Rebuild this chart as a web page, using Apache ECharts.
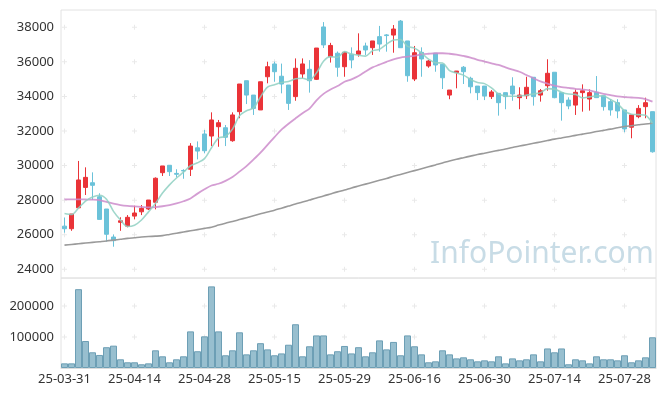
<!DOCTYPE html>
<html><head><meta charset="utf-8">
<script src="https://cdn.jsdelivr.net/npm/echarts@6/dist/echarts.min.js"></script>
<style>html,body{margin:0;padding:0;background:#fff}#c{width:665px;height:396px}</style>
</head><body><div id="c"></div>
<script>
const dates = ['25-03-31','25-04-01','25-04-02','25-04-03','25-04-04','25-04-07','25-04-08','25-04-09','25-04-10','25-04-11',
'25-04-14','25-04-15','25-04-16','25-04-17','25-04-18','25-04-21','25-04-22','25-04-23','25-04-24','25-04-25',
'25-04-28','25-04-29','25-04-30','25-05-02','25-05-07','25-05-08','25-05-09','25-05-12','25-05-13','25-05-14',
'25-05-15','25-05-16','25-05-19','25-05-20','25-05-21','25-05-22','25-05-23','25-05-26','25-05-27','25-05-28',
'25-05-29','25-05-30','25-06-02','25-06-04','25-06-05','25-06-09','25-06-10','25-06-11','25-06-12','25-06-13',
'25-06-16','25-06-17','25-06-18','25-06-19','25-06-20','25-06-23','25-06-24','25-06-25','25-06-26','25-06-27',
'25-06-30','25-07-01','25-07-02','25-07-03','25-07-04','25-07-07','25-07-08','25-07-09','25-07-10','25-07-11',
'25-07-14','25-07-15','25-07-16','25-07-17','25-07-18','25-07-21','25-07-22','25-07-23','25-07-24','25-07-25',
'25-07-28','25-07-29','25-07-30','25-07-31','25-08-01'];

const openP = [26500,26350,27560,28740,29010,28200,27490,25870,26720,26500,
27080,27330,27490,27880,29590,30020,29550,29720,29790,31030,
31830,31710,32250,32190,31440,33120,34910,34080,33220,35140,
35880,35170,34660,33990,35300,35570,34990,38020,36300,36500,
35720,36440,36440,36920,36820,37460,37560,37550,38360,37210,
35010,36550,35760,36500,35860,34080,35380,35690,35050,34600,
34600,33990,34180,34220,34600,33930,34040,35110,34080,34620,
35400,34220,33790,33500,34220,33850,34240,34040,33700,33640,
33220,32220,32830,33410,33120];
const closeP = [26350,27200,29170,29320,28860,26890,26030,25660,26810,27010,
27260,27530,28010,29270,29980,29650,29500,29690,31130,30840,
30860,32640,32480,31640,32930,34720,34080,33310,34850,35720,
35430,34720,33600,35630,35880,34910,36800,36980,36950,35690,
36550,36110,36630,36690,37210,37030,37520,37900,36820,35200,
36530,36170,36050,35820,35080,34370,35470,35430,34560,34220,
34030,34260,33640,33990,34140,34080,34530,33990,34330,35340,
33930,33640,33450,34240,34330,34220,33930,33410,33220,33160,
32120,32930,33310,33640,30800];
const lowP = [26120,26230,27560,28300,28010,26890,25600,25310,26230,26430,
26890,27140,27430,27470,29400,29400,29320,29240,29400,30360,
30710,31130,31090,31130,31380,32740,33560,32930,33220,34760,
34850,34180,33220,33750,35050,34220,34950,36800,35960,35140,
35140,35630,36300,36400,36400,36590,36590,36530,36820,34850,
34890,35140,35660,35430,34430,33840,34470,34720,34180,33790,
33790,33850,32890,33260,33750,33260,33850,33470,33700,34330,
33930,32600,33260,32930,33120,33180,33930,33180,32890,32740,
31930,31580,32740,32740,30750];
const highP = [27000,27200,30270,29900,29610,28400,27490,26020,27010,27140,
27680,27720,28010,29320,29980,30020,29790,29790,31300,31400,
32060,33080,32640,32350,33080,34720,34910,34080,34850,36010,
36010,35900,34660,36200,36200,36100,36800,38300,37100,36600,
36590,36840,37650,37110,37210,38080,37610,38130,38420,37210,
36920,36840,36110,36500,35860,34370,35470,35760,35140,34600,
34600,34370,34180,34220,35110,34530,35140,35110,34430,36150,
35400,34220,33950,34410,34700,34410,35180,34040,33840,33840,
33220,32930,33500,33930,33120];
const volume = [15000,15000,254000,87000,50600,42000,67000,72000,28000,18400,
18400,12000,15000,57000,37700,18400,28000,37700,118000,54000,
102000,263000,118000,41000,57000,115000,44000,57000,80000,60000,
41000,47000,75000,141000,37700,70000,105000,105000,44000,54000,
71000,47000,67000,37700,50600,89000,60000,84000,41000,105000,
70000,44000,18400,21500,57000,44000,31000,34400,28000,21500,
24700,21500,37700,15000,31000,24700,28000,44000,21500,63000,
50600,63000,12000,28000,24700,15000,37700,28000,28000,24700,
41000,18400,24700,34400,99000];
const ma5 = [27230,27170,27550,27950,28180,28288,28054,27352,26850,26480,
26554,26854,27324,27816,28410,28888,29282,29618,29990,30162,
30404,31032,31590,31692,32110,32882,33170,33336,33978,34536,
34678,34806,34864,35020,35052,34948,35364,36040,36304,36266,
36594,36456,36386,36334,36638,36734,37016,37270,37296,36894,
36794,36524,36154,35954,35930,35498,35358,35234,34982,34810,
34742,34500,34142,34028,34012,34022,34076,34146,34214,34454,
34424,34246,34138,34120,33918,33976,34034,34026,33822,33588,
33168,32968,32948,32912,32440];
const ma20 = [28050,28050,28050,28040,28030,28000,27900,27800,27720,27670,
27640,27610,27580,27600,27650,27720,27820,27940,28100,28380,
28630,28850,28950,29120,29340,29650,29970,30350,30750,31200,
31650,32080,32420,32730,33030,33300,33780,34150,34400,34600,
34850,34990,35180,35440,35680,35840,36000,36150,36250,36300,
36350,36430,36470,36500,36500,36470,36420,36340,36250,36120,
36020,35920,35820,35680,35550,35430,35240,35050,34870,34740,
34620,34540,34490,34440,34400,34350,34250,34150,34080,34000,
33960,33940,33920,33850,33700];
const maLong = [25400,25440,25480,25520,25560,25600,25640,25690,25740,25790,
25830,25870,25900,25920,25950,26020,26090,26160,26230,26300,
26370,26440,26560,26670,26770,26880,26990,27100,27210,27320,
27420,27540,27660,27780,27890,28010,28130,28240,28360,28480,
28590,28710,28820,28930,29040,29150,29260,29380,29490,29600,
29710,29820,29930,30040,30150,30270,30370,30460,30550,30640,
30720,30800,30880,30960,31050,31130,31210,31290,31370,31450,
31530,31600,31670,31750,31820,31890,31970,32040,32110,32190,
32260,32310,32360,32410,32450];
const priceTicks = [24000,26000,28000,30000,32000,34000,36000,38000];
const volTicks = [100000,200000];

const chart = echarts.init(document.getElementById('c'), null, {renderer:'canvas'});
const candle = dates.map((d,i)=>[openP[i], closeP[i], lowP[i], highP[i]]);
const crossCats = dates.filter((d,i)=>i%10===0);
const crossTop = [], crossVol = [];
crossCats.forEach(d=>{ priceTicks.forEach(v=>crossTop.push([d,v])); volTicks.forEach(v=>crossVol.push([d,v])); });
const plus = 'path://M2,0H3V2H5V3H3V5H2V3H0V2H2Z';
const FONT = 'Noto Sans';
const option = {
  animation:false,
  textStyle:{fontFamily:FONT},
  grid:[
    {left:61,right:9,top:10,height:268,show:true,borderColor:'#e2e2e2',borderWidth:1},
    {left:61,right:9,top:278,height:90,show:true,borderColor:'#e2e2e2',borderWidth:1}
  ],
  xAxis:[
    {type:'category',data:dates,gridIndex:0,boundaryGap:true,axisLine:{show:false},axisTick:{show:false},axisLabel:{show:false},splitLine:{show:false}},
    {type:'category',data:dates,gridIndex:1,boundaryGap:true,axisLine:{show:true,lineStyle:{color:'#dcdcdc'}},axisTick:{show:false},
     axisLabel:{interval:9,fontSize:13,color:'#333',margin:5,fontFamily:FONT},splitLine:{show:false}}
  ],
  yAxis:[
    {type:'value',gridIndex:0,min:23500,max:39000,interval:500,axisLine:{show:false},axisTick:{show:false},splitLine:{show:false},
     axisLabel:{fontSize:13,color:'#333',margin:7,fontFamily:FONT,formatter:v=>priceTicks.indexOf(v)>=0?String(v):''}},
    {type:'value',gridIndex:1,min:0,max:290000,interval:10000,axisLine:{show:false},axisTick:{show:false},splitLine:{show:false},
     axisLabel:{fontSize:13,color:'#333',margin:7,fontFamily:FONT,formatter:v=>volTicks.indexOf(v)>=0?String(v):''}}
  ],
  graphic:[{type:'text',left:430,top:239,z:0,silent:true,
    style:{text:'InfoPointer.com',font:'30px "Noto Sans"',fill:'#c8dce6'}}],
  series:[
    {type:'scatter',xAxisIndex:0,yAxisIndex:0,data:crossTop,symbol:plus,symbolSize:5,silent:true,z:1,itemStyle:{color:'#e4e4e4'}},
    {type:'scatter',xAxisIndex:1,yAxisIndex:1,data:crossVol,symbol:plus,symbolSize:5,silent:true,z:1,itemStyle:{color:'#e4e4e4'}},
    {type:'candlestick',xAxisIndex:0,yAxisIndex:0,data:candle,barWidth:5,z:2,
     itemStyle:{color:'#ea3338',color0:'#6bc2d9',borderColor:'#ea3338',borderColor0:'#6bc2d9',borderWidth:1}},
    {type:'line',xAxisIndex:0,yAxisIndex:0,data:maLong,showSymbol:false,smooth:0.3,z:3,lineStyle:{color:'#9a9a9a',width:1.6}},
    {type:'line',xAxisIndex:0,yAxisIndex:0,data:ma20,showSymbol:false,smooth:0.3,z:3,lineStyle:{color:'#cc8ccb',width:1.8,opacity:0.85}},
    {type:'line',xAxisIndex:0,yAxisIndex:0,data:ma5,showSymbol:false,smooth:0.3,z:3,lineStyle:{color:'#8fd0c2',width:1.6,opacity:0.85}},
    {type:'bar',xAxisIndex:1,yAxisIndex:1,data:volume,barCategoryGap:'0%',z:2,
     itemStyle:{color:'#98bfcf',borderColor:'#6d9fb5',borderWidth:1}}
  ]
};
chart.setOption(option);
</script></body></html>
